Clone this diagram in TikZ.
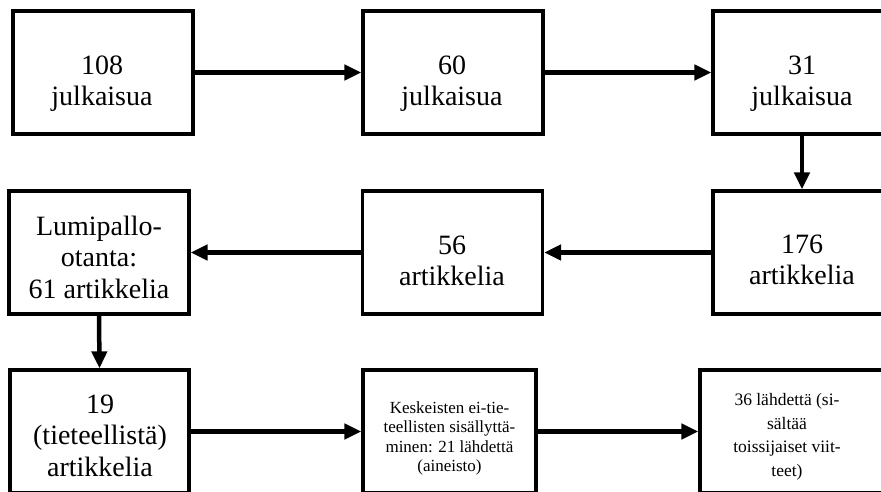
\documentclass[tikz,border=0pt]{standalone}
\usepackage{fontspec}
\setmainfont{Liberation Serif}
\usetikzlibrary{arrows.meta}
\tikzset{
 box/.style={draw, line width=3.2pt, minimum width=180pt, minimum height=123pt, inner sep=0pt},
 bigtext/.style={inner sep=0pt, align=center, font=\fontsize{28}{31.5}\selectfont},
 smalltext/.style={inner sep=0pt, font=\fontsize{17}{19.5}\selectfont, align=center},
 midtext/.style={inner sep=0pt, font=\fontsize{17.5}{23.5}\selectfont, align=center},
 conn/.style={line width=4.5pt, -{Triangle[length=17pt,width=15pt]}},
}
\begin{document}
\begin{tikzpicture}[x=1pt,y=-1pt]
\useasboundingbox (0,0) rectangle (881,491);
\clip (0,0) rectangle (881,491);
\fill[white] (0,0) rectangle (881,491);
% boxes
\node[box] (a) at (103,72.5) {};
\node[box] (b) at (453,72.5) {};
\node[box, minimum width=178pt] (c) at (802,72.5) {};
\node[box, minimum width=178pt] (d) at (802,252.5) {};
\node[box] (e) at (452.5,252.5) {};
\node[box] (f) at (99,252.5) {};
\node[box, minimum width=179pt] (g) at (99.5,431.5) {};
\node[box, minimum width=173pt] (h) at (449.5,431.5) {};
\node[box, minimum width=200pt] (i) at (800,431.5) {};
% texts
\node[bigtext] (at) at (102,83.5) {\strut 108\\julkaisua\strut};
\node[bigtext] (bt) at (452,83.5) {\strut 60\\julkaisua\strut};
\node[bigtext] (ct) at (802,83.5) {\strut 31\\julkaisua\strut};
\node[bigtext] (dt) at (802,262.8) {\strut 176\\artikkelia\strut};
\node[bigtext] (et) at (452,263.5) {\strut 56\\artikkelia\strut};
\node[bigtext] (ft) at (99,260.2) {\strut Lumipallo-\\otanta:\\61 artikkelia\strut};
\node[bigtext] (gt) at (100,438.5) {\strut 19\\(tieteellistä)\\artikkelia\strut};
\node[smalltext] (ht) at (449.5,438.6) {\strut Keskeisten ei-tie-\\teellisten sisällyttä-\\minen: 21 lähdettä\\(aineisto)\strut};
\node[midtext] (it) at (787,436.5) {\strut 36 lähdettä (si-\\sältää\\toissijaiset viit-\\teet)\strut};
% connectors
\draw[conn] (a.east) -- (b.west);
\draw[conn] (b.east) -- (c.west);
\draw[conn] (c.south) -- (d.north);
\draw[conn] (d.west) -- (e.east);
\draw[conn] (e.west) -- (f.east);
\draw[conn] (f.south) -- (g.north);
\draw[conn] (g.east) -- (h.west);
\draw[conn] (h.east) -- (i.west);
\end{tikzpicture}
\end{document}
